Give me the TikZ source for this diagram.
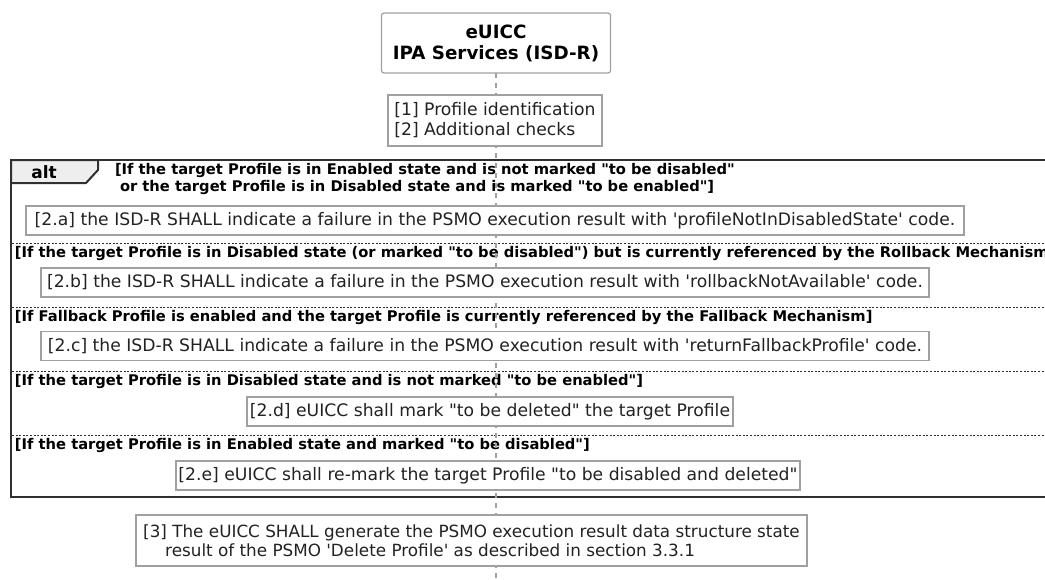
\documentclass[tikz,border=0pt]{standalone}
\usepackage{fontspec}
\setmainfont{DejaVu Sans}
\definecolor{boxgray}{HTML}{A0A0A0}
\definecolor{lifegray}{HTML}{A0A0A0}
\definecolor{framecol}{HTML}{303030}
\definecolor{tabfill}{HTML}{EEEEEE}
\definecolor{textcol}{HTML}{222222}
% straight quotes, kept out of the TeX ligature mapping
\newcommand{\dqt}{\textquotedbl}
\newcommand{\sqt}{\textquotesingle}
\begin{document}
\begin{tikzpicture}[x=1pt,y=-1pt,
  every node/.style={inner sep=0pt, outer sep=0pt},
  partbox/.style={draw=boxgray, line width=1.2pt, fill=white, rounded corners=2.5pt,
    font=\bfseries\fontsize{18.3}{21}\selectfont, align=center, text=black},
  notebox/.style={draw=boxgray, line width=1.2pt, fill=white,
    font=\fontsize{17.2}{20}\selectfont, text=textcol, align=left},
  guard/.style={font=\bfseries\fontsize{14.7}{17}\selectfont, text=black, align=left},
  lifeline/.style={draw=lifegray, line width=1.1pt, dash pattern=on 5pt off 5pt},
  frameline/.style={draw=framecol, line width=2pt},
  sepline/.style={draw=framecol, line width=0.9pt, dash pattern=on 2pt off 1.6pt},
]
\useasboundingbox (0,0) rectangle (1045,579);
\clip (0,0) rectangle (1045,579);

% participant
\node[partbox, minimum width=229pt, minimum height=60pt] (part) at (496,43)
  {eUICC\\IPA Services (ISD-R)};
\coordinate (lifeend) at (496,579);

% alt frame and its tab
\draw[frameline, fill=white] (11,160) rectangle (1070,497);
\draw[frameline, fill=tabfill, line join=miter] (11,160) -- (98,160) -- (98,170) -- (86,183) -- (11,183) -- cycle;
\node[font=\bfseries\fontsize{17}{20}\selectfont] (altlbl) at (44,172) {alt};

% guards
\node[guard, anchor=north west] (g1) at (115,163)
  {[If the target Profile is in Enabled state and is not marked \dqt to be disabled\dqt\\
   \hspace*{5pt}or the target Profile is in Disabled state and is marked \dqt to be enabled\dqt]};
\node[guard, anchor=west] (g2) at (15,253)
  {[If the target Profile is in Disabled state (or marked \dqt to be disabled\dqt) but is currently referenced by the Rollback Mechanism]};
\node[guard, anchor=west] (g3) at (15,317)
  {[If Fallback Profile is enabled and the target Profile is currently referenced by the Fallback Mechanism]};
\node[guard, anchor=west] (g4) at (15,381)
  {[If the target Profile is in Disabled state and is not marked \dqt to be enabled\dqt]};
\node[guard, anchor=west] (g5) at (15,445)
  {[If the target Profile is in Enabled state and marked \dqt to be disabled\dqt]};

% operand separators
\foreach \yy/\nm in {243/s1,307/s2,371/s3,435/s4}{
  \coordinate (\nm a) at (12,\yy);
  \coordinate (\nm b) at (1070,\yy);
  \draw[sepline] (\nm a) -- (\nm b);
}

% lifeline
\draw[lifeline] (part.south) -- (lifeend);

% notes on the lifeline
\node[notebox, minimum width=214pt, minimum height=51pt] (n1) at (495,120.5)
  {[1] Profile identification\\{}[2] Additional checks};
\node[notebox, minimum width=938pt, minimum height=29pt] (na) at (495,220.5)
  {[2.a] the ISD-R SHALL indicate a failure in the PSMO execution result with \sqt profileNotInDisabledState\sqt\ code.};
\node[notebox, minimum width=888pt, minimum height=29pt] (nb) at (485,282.5)
  {[2.b] the ISD-R SHALL indicate a failure in the PSMO execution result with \sqt rollbackNotAvailable\sqt\ code.};
\node[notebox, minimum width=888pt, minimum height=29pt] (nc) at (485,346)
  {[2.c] the ISD-R SHALL indicate a failure in the PSMO execution result with \sqt returnFallbackProfile\sqt\ code.};
\node[notebox, minimum width=486pt, minimum height=29pt] (nd) at (490,411.5)
  {[2.d] eUICC shall mark \dqt to be deleted\dqt\ the target Profile};
\node[notebox, minimum width=624pt, minimum height=29pt] (ne) at (488,475.5)
  {[2.e] eUICC shall re-mark the target Profile \dqt to be disabled and deleted\dqt};
\node[notebox, font=\fontsize{16.8}{19.5}\selectfont, minimum width=671pt, minimum height=51pt] (n3) at (471.5,540.5)
  {[3] The eUICC SHALL generate the PSMO execution result data structure state\\
   \hspace*{22pt}result of the PSMO \sqt Delete Profile\sqt\ as described in section 3.3.1};
\end{tikzpicture}
\end{document}
